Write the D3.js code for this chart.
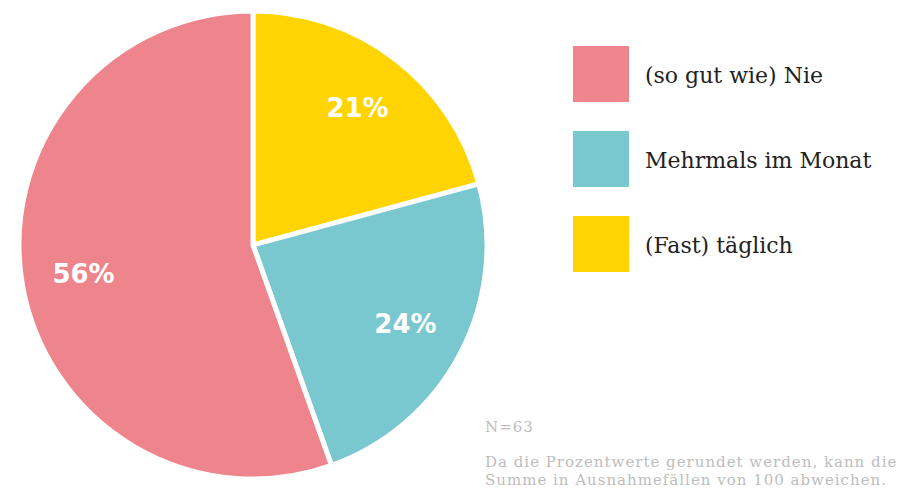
<!DOCTYPE html>
<html><head><meta charset="utf-8">
<script src="https://cdn.jsdelivr.net/npm/d3@7"></script>
<style>body{margin:0;background:#fff}svg{display:block}</style>
</head><body>
<svg id="c" width="907" height="489"></svg>
<script>
const categories = ["(so gut wie) Nie", "Mehrmals im Monat", "(Fast) täglich"];
const values = [56, 24, 21];
const colors = ["#EE858D", "#79C7CF", "#FFD400"];
const pieOrder = [2, 1, 0];
const note = ["N=63", "Da die Prozentwerte gerundet werden, kann die", "Summe in Ausnahmefällen von 100 abweichen."];

const svg = d3.select("#c");
const cx = 253, cy = 245, R = 234;
const g = svg.append("g").attr("transform", `translate(${cx},${cy})`);
const data = pieOrder.map(i => ({cat: categories[i], v: values[i], col: colors[i]}));
const pie = d3.pie().sort(null).value(d => d.v);
const arcs = pie(data);
const arc = d3.arc().innerRadius(0).outerRadius(R);
g.selectAll("path").data(arcs).join("path")
  .attr("d", arc).attr("fill", d => d.data.col)
  .attr("stroke", "#fff").attr("stroke-width", 5).attr("stroke-linejoin", "round");
const lab = d3.arc().innerRadius(172).outerRadius(172);
g.selectAll("text").data(arcs).join("text")
  .attr("transform", d => { const c = lab.centroid(d); return `translate(${c[0]},${c[1]})`; })
  .attr("text-anchor", "middle").attr("dy", "0.33em")
  .attr("font-family", "'DejaVu Sans', sans-serif").attr("font-weight", "bold")
  .attr("font-size", 26).attr("fill", "#fff")
  .text(d => d.data.v + "%");

const leg = svg.append("g");
const ly = d3.scalePoint().domain(categories).range([46, 216]);
const ls = leg.selectAll("g").data(categories).join("g")
  .attr("transform", d => `translate(573,${ly(d)})`);
ls.append("rect").attr("width", 56).attr("height", 56).attr("fill", (d, i) => colors[i]);
ls.append("text").attr("x", 72).attr("y", 29).attr("dy", "0.35em")
  .attr("font-family", "'DejaVu Serif', serif").attr("font-size", 22).attr("fill", "#222")
  .text(d => d);

const nt = svg.append("g").attr("font-family", "'DejaVu Serif', serif").attr("fill", "#bdbdbd")
  .attr("font-size", 15).attr("letter-spacing", 1);
nt.append("text").attr("x", 485).attr("y", 432).text(note[0]);
nt.append("text").attr("x", 485).attr("y", 467).text(note[1]);
nt.append("text").attr("x", 485).attr("y", 485).text(note[2]);
</script>
</body></html>
